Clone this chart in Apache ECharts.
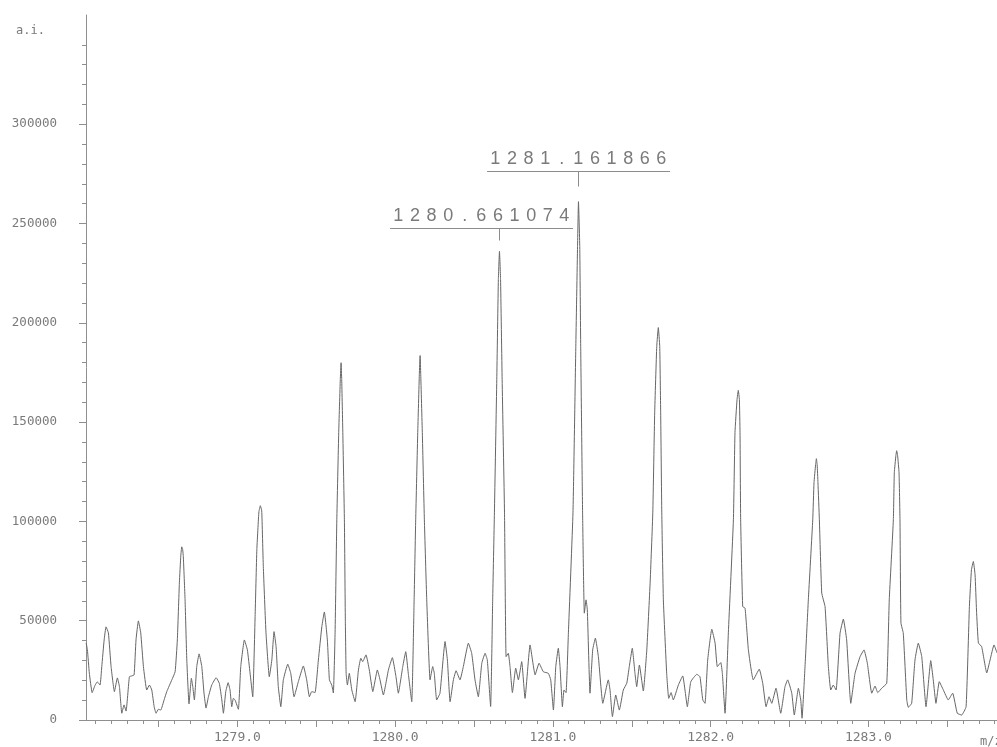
<!DOCTYPE html>
<html>
<head>
<meta charset="utf-8">
<title>Mass spectrum m/z 1278–1284</title>
<script src="https://cdn.jsdelivr.net/npm/echarts@6.0.0/dist/echarts.min.js"></script>
<style>
  html, body { margin: 0; padding: 0; background: #ffffff; }
  #chart { width: 997px; height: 747px; }
</style>
</head>
<body>
<div id="chart"></div>
<script>
// Profile spectrum: m/z positions and intensities (a.i.)
const mz = [
  1278.041, 1278.049, 1278.061, 1278.079, 1278.098, 1278.112, 1278.129, 1278.140, 1278.155, 1278.167,
  1278.182, 1278.199, 1278.220, 1278.239, 1278.252, 1278.267, 1278.281, 1278.294, 1278.315, 1278.330,
  1278.345, 1278.357, 1278.372, 1278.387, 1278.404, 1278.425, 1278.442, 1278.457, 1278.472, 1278.484,
  1278.499, 1278.514, 1278.535, 1278.552, 1278.584, 1278.605, 1278.619, 1278.632, 1278.641, 1278.647,
  1278.653, 1278.657, 1278.668, 1278.679, 1278.693, 1278.708, 1278.717, 1278.727, 1278.742, 1278.757,
  1278.774, 1278.788, 1278.801, 1278.816, 1278.837, 1278.865, 1278.885, 1278.901, 1278.911, 1278.926,
  1278.941, 1278.953, 1278.964, 1278.974, 1278.985, 1279.006, 1279.021, 1279.044, 1279.063, 1279.080,
  1279.097, 1279.112, 1279.123, 1279.136, 1279.145, 1279.154, 1279.164, 1279.181, 1279.202, 1279.218,
  1279.232, 1279.245, 1279.259, 1279.275, 1279.291, 1279.319, 1279.338, 1279.359, 1279.386, 1279.418,
  1279.439, 1279.456, 1279.471, 1279.492, 1279.513, 1279.535, 1279.551, 1279.570, 1279.583, 1279.598,
  1279.608, 1279.619, 1279.630, 1279.642, 1279.652, 1279.657, 1279.661, 1279.668, 1279.678, 1279.684,
  1279.689, 1279.697, 1279.709, 1279.725, 1279.746, 1279.767, 1279.782, 1279.794, 1279.815, 1279.836,
  1279.858, 1279.887, 1279.904, 1279.925, 1279.957, 1279.982, 1280.005, 1280.020, 1280.048, 1280.067,
  1280.083, 1280.105, 1280.120, 1280.130, 1280.143, 1280.153, 1280.158, 1280.162, 1280.172, 1280.185,
  1280.200, 1280.221, 1280.238, 1280.248, 1280.263, 1280.284, 1280.316, 1280.331, 1280.348, 1280.369,
  1280.386, 1280.411, 1280.432, 1280.464, 1280.485, 1280.506, 1280.527, 1280.549, 1280.570, 1280.584,
  1280.605, 1280.618, 1280.629, 1280.644, 1280.654, 1280.661074, 1280.668, 1280.678, 1280.693, 1280.703,
  1280.717, 1280.728, 1280.743, 1280.764, 1280.781, 1280.802, 1280.823, 1280.855, 1280.887, 1280.912,
  1280.939, 1280.971, 1280.986, 1281.003, 1281.018, 1281.034, 1281.045, 1281.060, 1281.070, 1281.083,
  1281.098, 1281.127, 1281.145, 1281.156, 1281.161866, 1281.170, 1281.176, 1281.188, 1281.199, 1281.210,
  1281.218, 1281.235, 1281.252, 1281.269, 1281.288, 1281.316, 1281.351, 1281.362, 1281.377, 1281.398,
  1281.421, 1281.446, 1281.468, 1281.484, 1281.503, 1281.520, 1281.531, 1281.548, 1281.573, 1281.595,
  1281.616, 1281.633, 1281.645, 1281.658, 1281.668, 1281.677, 1281.683, 1281.690, 1281.700, 1281.721,
  1281.734, 1281.749, 1281.763, 1281.795, 1281.823, 1281.837, 1281.852, 1281.874, 1281.912, 1281.932,
  1281.950, 1281.964, 1281.981, 1282.007, 1282.028, 1282.042, 1282.064, 1282.074, 1282.091, 1282.112,
  1282.144, 1282.154, 1282.167, 1282.175, 1282.182, 1282.186, 1282.190, 1282.203, 1282.218, 1282.239,
  1282.270, 1282.308, 1282.330, 1282.351, 1282.370, 1282.387, 1282.414, 1282.444, 1282.471, 1282.488,
  1282.514, 1282.530, 1282.556, 1282.571, 1282.579, 1282.598, 1282.619, 1282.647, 1282.655, 1282.665,
  1282.670, 1282.675, 1282.680, 1282.689, 1282.704, 1282.725, 1282.746, 1282.761, 1282.777, 1282.795,
  1282.820, 1282.841, 1282.862, 1282.888, 1282.915, 1282.947, 1282.972, 1282.993, 1283.021, 1283.042,
  1283.059, 1283.084, 1283.116, 1283.132, 1283.158, 1283.164, 1283.174, 1283.179, 1283.185, 1283.194,
  1283.200, 1283.206, 1283.221, 1283.243, 1283.253, 1283.274, 1283.295, 1283.316, 1283.338, 1283.365,
  1283.395, 1283.411, 1283.428, 1283.449, 1283.475, 1283.506, 1283.534, 1283.563, 1283.591, 1283.619,
  1283.640, 1283.653, 1283.665, 1283.676, 1283.685, 1283.697, 1283.718, 1283.750, 1283.771, 1283.796,
  1283.815
];

const intensity = [
  38800, 35300, 23700, 13800, 17600, 19200, 17600, 26900, 40300, 46900,
  43900, 26900, 14300, 21200, 16800, 3400, 7600, 4500, 21800, 22200,
  22700, 40300, 49900, 43900, 26900, 15100, 17600, 15100, 6700, 3400,
  5400, 5000, 10100, 14300, 20200, 24300, 40300, 69100, 82700, 87200,
  85700, 82200, 60500, 30200, 8100, 21000, 16800, 10100, 26900, 33300,
  26900, 13600, 6000, 11700, 17600, 21300, 18500, 10100, 3400, 14300,
  18800, 15100, 6700, 10900, 10100, 5400, 26900, 40300, 35300, 23700,
  11700, 52100, 85700, 104800, 107900, 105300, 77300, 43900, 21800, 30200,
  44500, 36900, 16800, 6700, 20200, 28100, 23500, 11700, 19300, 27200,
  20200, 11700, 14300, 13800, 30200, 47000, 54400, 40300, 20200, 17600,
  13600, 43900, 100800, 144700, 171400, 179900, 171400, 144700, 100800, 50400,
  23500, 17600, 23500, 15100, 9200, 25200, 31100, 29400, 32800, 25200,
  14300, 25200, 20200, 12600, 25200, 31400, 21800, 13500, 26900, 34400,
  23500, 9200, 60500, 100800, 144700, 173900, 183500, 173900, 144700, 100800,
  60500, 20200, 26900, 23500, 10100, 13500, 39500, 30200, 9200, 20200,
  24800, 20200, 26900, 38700, 33600, 20200, 11700, 28600, 33600, 30200,
  6800, 60500, 104300, 171400, 221800, 236000, 221800, 171400, 104300, 31900,
  33600, 26900, 13800, 26100, 20200, 29400, 10900, 37800, 22700, 28600,
  24300, 23500, 20200, 5000, 26900, 36100, 26900, 6700, 15100, 13800,
  43900, 104300, 188000, 238400, 261000, 238400, 188000, 104300, 53800, 60500,
  55400, 13500, 35300, 41200, 31900, 8400, 20200, 15100, 1700, 12600,
  5000, 15100, 18500, 26900, 36100, 23500, 16800, 27700, 14600, 35300,
  68900, 104300, 154700, 188000, 197600, 188000, 154700, 104300, 60500, 23500,
  10900, 13800, 10100, 17600, 22200, 15100, 6700, 19300, 23000, 21800,
  10100, 8400, 30200, 45700, 38700, 26900, 28900, 23500, 3400, 43900,
  100800, 144700, 161300, 166000, 161300, 144700, 100800, 57100, 56300, 35300,
  20200, 25600, 18500, 6700, 11700, 8400, 16000, 3400, 16800, 20200,
  13500, 2500, 16000, 10100, 900, 26900, 60500, 100800, 119500, 128500,
  131600, 128500, 119500, 100800, 63900, 57100, 26900, 15100, 17600, 15100,
  43700, 50800, 40300, 8400, 23500, 31900, 35300, 28600, 13500, 17100,
  13800, 16000, 18500, 60500, 100800, 124500, 133100, 135600, 133100, 124500,
  100800, 48900, 43700, 10100, 6400, 8400, 30200, 38700, 31900, 6700,
  29900, 20200, 8400, 19300, 15100, 10100, 13500, 3400, 2500, 6700,
  57100, 75600, 79800, 73100, 55400, 38800, 36900, 23700, 30200, 37800,
  33800
];

// Labelled peaks (centroid m/z and apex intensity)
const peakLabels = ['1280.661074', '1281.161866'];
const peakMz = [1280.661074, 1281.161866];
const peakHeight = [236000, 261000];

// Axis ticks and labels
const xTickLabels = [1279, 1280, 1281, 1282, 1283];
const xMajorTicks = [1278.5, 1279, 1279.5, 1280, 1280.5, 1281, 1281.5, 1282, 1282.5, 1283, 1283.5];
const yTickLabels = [0, 50000, 100000, 150000, 200000, 250000, 300000];

const xMin = 1278.040, xMax = 1283.815;
const yMin = 0, yMax = 355000;

// minor ticks every 0.1 m/z and every 10000 counts
const xMinorTicks = [];
for (let k = 12781; k <= 12838; k++) {
  if (k % 5 !== 0) xMinorTicks.push(k / 10);
}
const yMinorTicks = [];
for (let v = 10000; v <= 340000; v += 10000) {
  if (v % 50000 !== 0) yMinorTicks.push(v);
}

// Callout geometry around each labelled apex (pixels)
const calloutLayout = [
  { left: -109.4, right: 73.6, rise: 23.8, gap: 10.8, cell: 16.6, lift: 12 },
  { left: -91.4, right: 91.6, rise: 30.2, gap: 15.2, cell: 16.6, lift: 12 }
];

const axisGray = '#8f8f8f';
const textGray = '#7a7a7a';
const monoFont = '"DejaVu Sans Mono", "Liberation Mono", monospace';

function renderCallout(params, api) {
  const i = params.dataIndex;
  const lay = calloutLayout[i];
  const p = api.coord([api.value(0), api.value(1)]);
  const lineY = Math.round(p[1] - lay.rise) + 0.5;
  const tx = Math.round(p[0]) + 0.5;
  const x0 = p[0] + lay.left;
  const x1 = p[0] + lay.right;
  const text = peakLabels[i];
  const children = [
    { type: 'line', shape: { x1: x0, y1: lineY, x2: x1, y2: lineY },
      style: { stroke: '#8c8c8c', lineWidth: 1 } },
    { type: 'line', shape: { x1: tx, y1: lineY, x2: tx, y2: p[1] - lay.gap },
      style: { stroke: '#8c8c8c', lineWidth: 1 } }
  ];
  for (let k = 0; k < text.length; k++) {
    children.push({
      type: 'text',
      x: x0 + (k + 0.5) * lay.cell,
      y: lineY - lay.lift,
      style: {
        text: text[k],
        fill: textGray,
        fontSize: 18,
        fontFamily: '"Liberation Sans", "DejaVu Sans", sans-serif',
        fontWeight: 'normal',
        align: 'center',
        verticalAlign: 'middle'
      }
    });
  }
  return { type: 'group', children: children };
}

const chart = echarts.init(document.getElementById('chart'), null, { renderer: 'canvas' });

chart.setOption({
  animation: false,
  backgroundColor: '#ffffff',
  title: [
    { text: 'a.i.', left: 11, top: 20,
      textStyle: { fontFamily: monoFont, fontSize: 12, fontWeight: 'normal', color: textGray } },
    { text: 'm/z', left: 975, top: 731,
      textStyle: { fontFamily: monoFont, fontSize: 12, fontWeight: 'normal', color: textGray } }
  ],
  grid: { left: 86, right: 0, top: 15, bottom: 27 },
  xAxis: [
    {
      type: 'value', min: xMin, max: xMax, position: 'bottom',
      axisLine: { show: true, lineStyle: { color: axisGray, width: 1 } },
      axisTick: { show: true, customValues: xMajorTicks, length: 7, lineStyle: { color: axisGray } },
      axisLabel: {
        show: true, customValues: xTickLabels, margin: 11,
        formatter: function (v) { return Number(v).toFixed(1); },
        fontFamily: monoFont, fontSize: 13, color: textGray
      },
      splitLine: { show: false }
    },
    {
      type: 'value', min: xMin, max: xMax, position: 'bottom', offset: 0,
      axisLine: { show: false },
      axisTick: { show: true, customValues: xMinorTicks, length: 4, lineStyle: { color: axisGray } },
      axisLabel: { show: false },
      splitLine: { show: false }
    }
  ],
  yAxis: [
    {
      type: 'value', min: yMin, max: yMax, position: 'left',
      axisLine: { show: true, lineStyle: { color: axisGray, width: 1 } },
      axisTick: { show: true, customValues: yTickLabels, length: 7, lineStyle: { color: axisGray } },
      axisLabel: {
        show: true, customValues: yTickLabels, margin: 29,
        formatter: function (v) { return String(v); },
        fontFamily: monoFont, fontSize: 12.5, color: textGray
      },
      splitLine: { show: false }
    },
    {
      type: 'value', min: yMin, max: yMax, position: 'left', offset: 0,
      axisLine: { show: false },
      axisTick: { show: true, customValues: yMinorTicks, length: 4, lineStyle: { color: axisGray } },
      axisLabel: { show: false },
      splitLine: { show: false }
    }
  ],
  series: [
    {
      name: 'spectrum',
      type: 'line',
      xAxisIndex: 0, yAxisIndex: 0,
      data: mz.map(function (m, i) { return [m, intensity[i]]; }),
      showSymbol: false,
      smooth: 0.12,
      lineStyle: { color: '#666666', width: 1 },
      silent: true,
      z: 2
    },
    {
      name: 'peak labels',
      type: 'custom',
      xAxisIndex: 0, yAxisIndex: 0,
      data: peakMz.map(function (m, i) { return [m, peakHeight[i]]; }),
      renderItem: renderCallout,
      clip: false,
      silent: true,
      z: 3
    }
  ]
});
</script>
</body>
</html>
